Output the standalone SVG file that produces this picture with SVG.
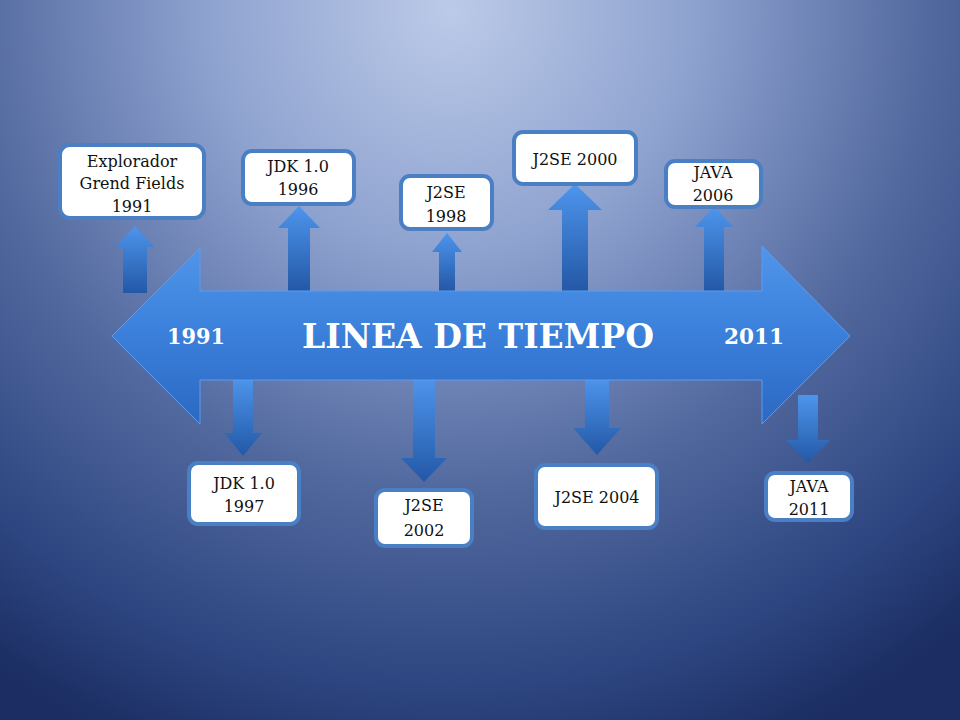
<svg xmlns="http://www.w3.org/2000/svg" width="960" height="720" viewBox="0 0 960 720">
<defs>
<radialGradient id="bg" gradientUnits="userSpaceOnUse" cx="450" cy="10" r="800">
<stop offset="0" stop-color="#bccae8"/>
<stop offset="0.3" stop-color="#8fa3d0"/>
<stop offset="0.6" stop-color="#52699f"/>
<stop offset="0.85" stop-color="#2d4580"/>
<stop offset="1" stop-color="#1b2d62"/>
</radialGradient>
<linearGradient id="big" x1="0" y1="0" x2="0" y2="1">
<stop offset="0" stop-color="#5196ea"/>
<stop offset="0.5" stop-color="#3a7fda"/>
<stop offset="1" stop-color="#2c68c2"/>
</linearGradient>
<linearGradient id="small" x1="0" y1="0" x2="0" y2="1">
<stop offset="0" stop-color="#4d95ec"/>
<stop offset="1" stop-color="#2358a6"/>
</linearGradient>
<style>
.box{fill:#ffffff;stroke:#4b7fc4;stroke-width:4}
.t{font-family:"DejaVu Serif","Liberation Serif",serif;font-size:16px;fill:#111111;text-anchor:middle}
.w{font-family:"DejaVu Serif","Liberation Serif",serif;font-weight:bold;fill:#ffffff;text-anchor:middle}
.sa{fill:url(#small)}
</style>
</defs>
<rect width="960" height="720" fill="url(#bg)"/>
<g id="connectors">
<path class="sa" d="M135,226 L154,247 L147,247 L147,293 L123,293 L123,247 L116,247 Z"/>
<path class="sa" d="M299,206 L320,228 L310,228 L310,291 L288,291 L288,228 L278,228 Z"/>
<path class="sa" d="M447,233 L462,252 L455,252 L455,291 L439,291 L439,252 L432,252 Z"/>
<path class="sa" d="M575,184 L602,210 L588,210 L588,291 L562,291 L562,210 L548,210 Z"/>
<path class="sa" d="M714,207 L733,227 L724,227 L724,291 L704,291 L704,227 L695,227 Z"/>
<path class="sa" d="M233,378 L253,378 L253,433 L262,433 L243,456 L224,433 L233,433 Z"/>
<path class="sa" d="M413,378 L435,378 L435,458 L447,458 L424,482 L401,458 L413,458 Z"/>
<path class="sa" d="M585,378 L609,378 L609,428 L621,428 L597,455 L573,428 L585,428 Z"/>
<path class="sa" d="M798,395 L818,395 L818,440 L830,440 L808,463 L786,440 L798,440 Z"/>
</g>
<g id="timeline">
<path d="M112,336 L200,248 L200,291 L762,291 L762,246 L850,336 L762,424 L762,380 L200,380 L200,424 Z" fill="url(#big)" stroke="#5a9cf0" stroke-width="1"/>
<text class="w" x="478" y="348" font-size="34" textLength="352" lengthAdjust="spacingAndGlyphs">LINEA DE TIEMPO</text>
<text class="w" x="196" y="344" font-size="22" textLength="58" lengthAdjust="spacingAndGlyphs">1991</text>
<text class="w" x="754" y="344" font-size="22" textLength="60" lengthAdjust="spacingAndGlyphs">2011</text>
</g>
<g id="n1991">
<rect class="box" x="60" y="145" width="144" height="73" rx="10"/>
<text class="t" x="132" y="167">Explorador</text>
<text class="t" x="132" y="189">Grend Fields</text>
<text class="t" x="132" y="212">1991</text>
</g>
<g id="n1996">
<rect class="box" x="243" y="151" width="111" height="53" rx="9"/>
<text class="t" x="298" y="172">JDK 1.0</text>
<text class="t" x="298" y="195">1996</text>
</g>
<g id="n1998">
<rect class="box" x="401" y="176" width="91" height="53" rx="9"/>
<text class="t" x="446" y="198">J2SE</text>
<text class="t" x="446" y="222">1998</text>
</g>
<g id="n2000">
<rect class="box" x="514" y="132" width="122" height="52" rx="9"/>
<text class="t" x="575" y="165">J2SE 2000</text>
</g>
<g id="n2006">
<rect class="box" x="666" y="161" width="95" height="46" rx="9"/>
<text class="t" x="713" y="178">JAVA</text>
<text class="t" x="713" y="201">2006</text>
</g>
<g id="n1997">
<rect class="box" x="189" y="463" width="110" height="61" rx="9"/>
<text class="t" x="244" y="489">JDK 1.0</text>
<text class="t" x="244" y="512">1997</text>
</g>
<g id="n2002">
<rect class="box" x="376" y="490" width="96" height="56" rx="9"/>
<text class="t" x="424" y="511">J2SE</text>
<text class="t" x="424" y="536">2002</text>
</g>
<g id="n2004">
<rect class="box" x="536" y="465" width="121" height="63" rx="9"/>
<text class="t" x="597" y="503">J2SE 2004</text>
</g>
<g id="n2011">
<rect class="box" x="766" y="473" width="86" height="47" rx="9"/>
<text class="t" x="809" y="492">JAVA</text>
<text class="t" x="809" y="515">2011</text>
</g>
</svg>
